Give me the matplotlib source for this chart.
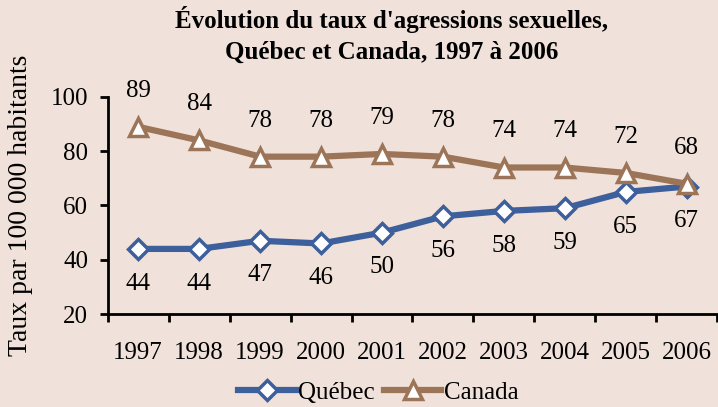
import matplotlib.pyplot as plt
from matplotlib.lines import Line2D

years = ["1997", "1998", "1999", "2000", "2001", "2002", "2003", "2004", "2005", "2006"]
quebec = [44, 44, 47, 46, 50, 56, 58, 59, 65, 67]
canada = [89, 84, 78, 78, 79, 78, 74, 74, 72, 68]

bg = "#f0e2da"
blue = "#3d5f9c"
brown = "#9c7559"

plt.rcParams["font.family"] = ["Liberation Serif", "DejaVu Serif"]

fig = plt.figure(figsize=(7.18, 4.07), dpi=100, facecolor=bg)
ax = fig.add_axes([0.150, 0.2285, 0.849, 0.5332], facecolor=bg)

x = list(range(len(years)))
ax.plot(x, quebec, color=blue, lw=4.5, marker="D", ms=10, mfc="white",
        mec=blue, mew=2.5, zorder=3)
ax.plot(x, canada, color=brown, lw=4.5, marker="^", ms=13, mfc="white",
        mec=brown, mew=2.5, zorder=3)

for i in x:
    ax.annotate(str(quebec[i]), (i, quebec[i]), xytext=(0, -25),
                textcoords="offset points", ha="center", va="center", fontsize=18)
    ax.annotate(str(canada[i]), (i, canada[i]), xytext=(0, 26),
                textcoords="offset points", ha="center", va="center", fontsize=18)

ax.set_xlim(-0.5, len(years) - 0.5)
ax.set_ylim(20, 100)
ax.set_yticks([20, 40, 60, 80, 100])
ax.set_xticks(x)
ax.set_xticklabels(years)
ax.set_xticks([i - 0.5 for i in range(len(years) + 1)], minor=True)
ax.tick_params(axis="x", which="major", length=0, pad=20, labelsize=18)
ax.tick_params(axis="x", which="minor", length=6, width=2, direction="out")
ax.tick_params(axis="y", length=6, width=2, direction="out", labelsize=18, pad=8)
for s in ["top", "right"]:
    ax.spines[s].set_visible(False)
for s in ["left", "bottom"]:
    ax.spines[s].set_linewidth(2)
ax.set_ylabel("Taux par 100 000 habitants", fontsize=20)
ax.yaxis.set_label_coords(-0.1225, 0.5)

fig.text(0.545, 0.985, "Évolution du taux d'agressions sexuelles,\nQuébec et Canada, 1997 à 2006",
         ha="center", va="top", fontsize=18, fontweight="bold", linespacing=1.45)

handles = [
    Line2D([], [], color=blue, lw=4.5, marker="D", ms=10, mfc="white", mec=blue, mew=2.5),
    Line2D([], [], color=brown, lw=4.5, marker="^", ms=13, mfc="white", mec=brown, mew=2.5),
]
fig.legend(handles, ["Québec", "Canada"], loc="center", bbox_to_anchor=(0.527, 0.035),
           ncol=2, frameon=False, fontsize=18, handlelength=2.3, handletextpad=0.1,
           columnspacing=0.35)

fig.savefig("out.png", dpi=100, facecolor=bg)
